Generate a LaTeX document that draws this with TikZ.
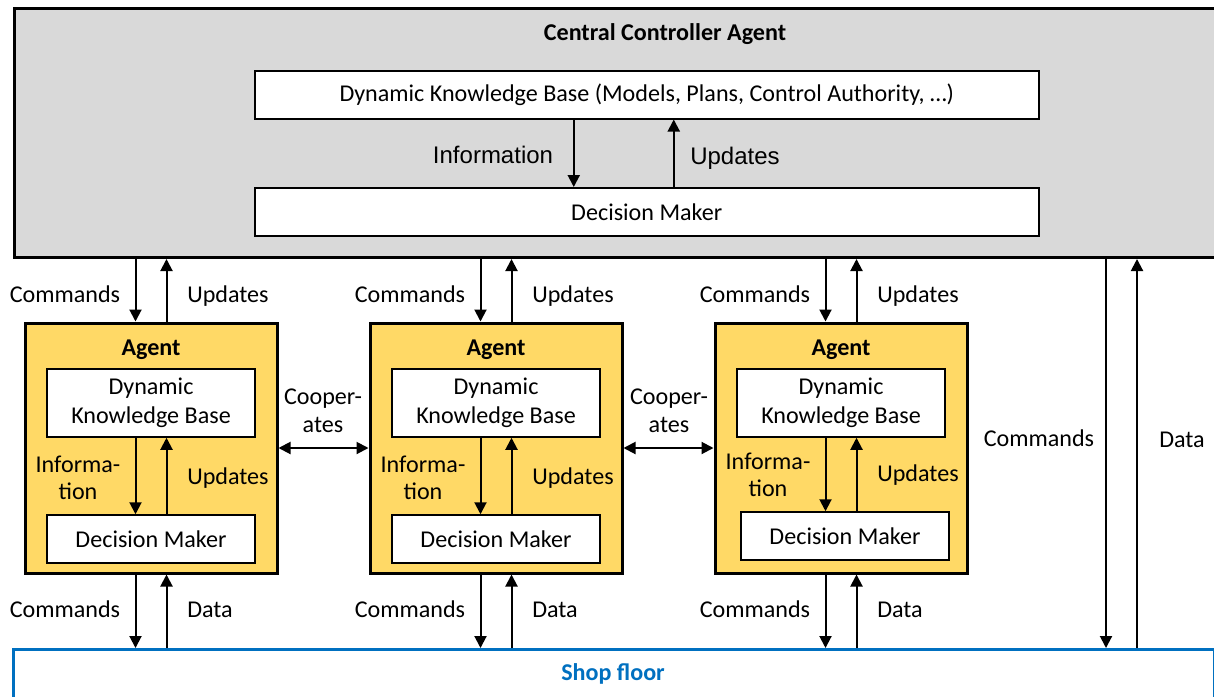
\documentclass[tikz,border=0pt]{standalone}
\usepackage{fontspec}
\setmainfont{Carlito}
\newfontfamily\arialf{Liberation Sans}
\usetikzlibrary{arrows.meta,calc}
\definecolor{ccgray}{HTML}{D9D9D9}
\definecolor{agyellow}{HTML}{FFD966}
\definecolor{sfblue}{HTML}{0070C0}
\begin{document}
\begin{tikzpicture}[x=1pt,y=-1pt,
  font=\fontsize{24.1}{29}\selectfont,
  box/.style={draw, line width=1.5pt, fill=white, inner sep=0pt},
  bigbox/.style={draw, line width=3pt, inner sep=0pt},
  arr/.style={line width=2pt, -{Triangle[length=12pt,width=12pt]}},
  darr/.style={line width=2pt, {Triangle[length=12pt,width=12pt]}-{Triangle[length=12pt,width=12pt]}},
  lbl/.style={inner sep=0pt, align=center}]
\clip (0,0) rectangle (1214,696);
\useasboundingbox (0,0) rectangle (1214,696);
% central controller
\node[bigbox, fill=ccgray, minimum width=1220pt, minimum height=249pt, anchor=north west] (cca) at (13,7) {};
\node[lbl, font=\fontsize{24.1}{29}\selectfont\bfseries] (ccat) at (665,34) {Central Controller Agent};
\node[box, minimum width=784pt, minimum height=48pt, anchor=north west] (cdkb) at (254,70) {Dynamic Knowledge Base (Models, Plans, Control Authority, …)};
\node[box, minimum width=784pt, minimum height=48pt, anchor=north west] (cdm) at (254,187) {Decision Maker};
\draw[arr] ([xshift=-73pt]cdkb.south) -- ([xshift=-73pt]cdm.north);
\draw[arr] ([xshift=27pt]cdm.north) -- ([xshift=27pt]cdkb.south);
\node[lbl, font=\fontsize{24}{29}\selectfont\arialf] (cinfo) at (493,155) {Information};
\node[lbl, font=\fontsize{24}{29}\selectfont\arialf] (cupd) at (735,158) {Updates};
% shop floor
\node[bigbox, draw=sfblue, fill=white, minimum width=1201pt, minimum height=70pt, anchor=north west] (sf) at (12,648) {};
\node[lbl, text=sfblue, font=\fontsize{24.1}{29}\selectfont\bfseries] (sft) at (613,674) {Shop floor};
% agents
\foreach \i/\cx/\dx/\dy in {1/151/0/0, 2/496/0/0, 3/841/4/-3} {
  \node[bigbox, fill=agyellow, minimum width=252pt, minimum height=250pt] (ag\i) at (\cx,448) {};
  \node[lbl, font=\fontsize{24.1}{29}\selectfont\bfseries] (agt\i) at (\cx,350) {Agent};
  \node[box, minimum width=208pt, minimum height=68pt, align=center] (kb\i) at (\cx,403) {Dynamic\\[0pt]Knowledge Base};
  \node[box, minimum width=208pt, minimum height=48pt] (dm\i) at (\cx+\dx,539+\dy) {Decision Maker};
  \coordinate (il\i) at (\cx-15.5,0);
  \coordinate (ir\i) at (\cx+15.5,0);
  \draw[arr] (kb\i.south -| il\i) -- (dm\i.north -| il\i);
  \draw[arr] (dm\i.north -| ir\i) -- (kb\i.south -| ir\i);
  \draw[arr] (cca.south -| il\i) -- (ag\i.north -| il\i);
  \draw[arr] (ag\i.north -| ir\i) -- (cca.south -| ir\i);
  \draw[arr] (ag\i.south -| il\i) -- (sf.north -| il\i);
  \draw[arr] (sf.north -| ir\i) -- (ag\i.south -| ir\i);
  \node[lbl] (cmdt\i) at (\cx-86,294) {Commands};
  \node[lbl] (updt\i) at (\cx+77,296) {Updates};
  \node[lbl] (info\i) at (\cx-73,478+\dy) {Informa-\\[-2pt]tion};
  \node[lbl] (iupd\i) at (\cx+77,478+\dy) {Updates};
  \node[lbl] (cmdb\i) at (\cx-86,609) {Commands};
  \node[lbl] (datb\i) at (\cx+59,610) {Data};
}
% cooperation
\draw[darr] (ag1.east) -- (ag2.west);
\draw[darr] (ag2.east) -- (ag3.west);
\node[lbl] (coop1) at (323,411) {Cooper-\\[-1pt]ates};
\node[lbl] (coop2) at (669,411) {Cooper-\\[-1pt]ates};
% direct links
\coordinate (rc) at (1106,0);
\coordinate (rd) at (1137,0);
\draw[arr] (cca.south -| rc) -- (sf.north -| rc);
\draw[arr] (sf.north -| rd) -- (cca.south -| rd);
\node[lbl] (rcl) at (1039,438) {Commands};
\node[lbl] (rdl) at (1182,440) {Data};
\end{tikzpicture}
\end{document}
